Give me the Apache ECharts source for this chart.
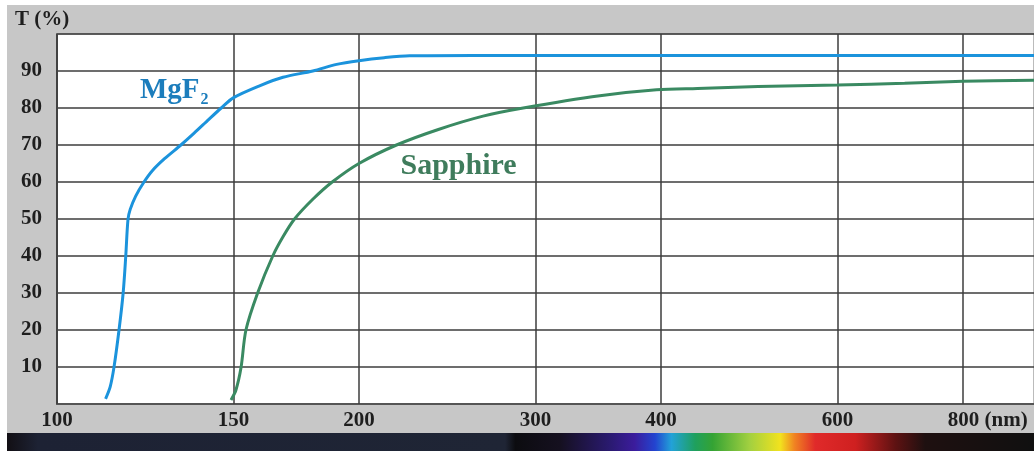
<!DOCTYPE html>
<html>
<head>
<meta charset="utf-8">
<script src="https://cdn.jsdelivr.net/npm/echarts@6/dist/echarts.min.js"></script>
<style>
  html, body { margin: 0; padding: 0; background: #fff; }
  #chart { width: 1034px; height: 451px; }
</style>
</head>
<body>
<div id="chart"></div>
<script>
// Wavelength (nm) ticks drawn as vertical guide lines on the log axis
const wavelengthTicks = [100, 150, 200, 300, 400, 600, 800];
const tickLabels = ['100', '150', '200', '300', '400', '600', '800 (nm)'];

// MgF2 transmission curve
const mgf2Wavelength = [111.8, 113, 114, 115.3, 116.4, 117.1, 117.7, 118.3, 119.8, 122.1, 124.4, 128, 132.9, 137, 141.8, 145.8, 150, 159.2, 168, 179.9, 190, 200, 212, 224.7, 260, 350, 500, 700, 942];
const mgf2Transmission = [1.4, 4.7, 10.1, 20, 30, 40, 49.9, 52.6, 56.2, 60, 63, 66.3, 70, 73.2, 77, 80, 82.8, 86, 88.3, 90, 91.8, 92.8, 93.6, 94.1, 94.2, 94.2, 94.2, 94.2, 94.2];

// Sapphire transmission curve
const sapphireWavelength = [149.1, 150.8, 152.6, 154.3, 158.5, 164.1, 168, 172.5, 180, 188.1, 200, 218, 240, 265.9, 291.6, 347.7, 396, 435, 500, 600, 700, 800, 942];
const sapphireTransmission = [1.1, 3.8, 10, 20, 30, 40, 45.2, 50, 55.4, 60, 65, 70, 74.2, 77.8, 80, 83.3, 84.9, 85.3, 85.8, 86.2, 86.7, 87.2, 87.5];

// Curve name annotations, anchored in data coordinates
const mgf2LabelAt = [130.9, 84.8];
const sapphireLabelAt = [251.4, 64.3];

const serif = '"Liberation Serif", "DejaVu Serif", serif';
const gridColor = '#3c3c3c';
const textColor = '#1e1e1e';

const pair = (xs, ys) => xs.map((x, i) => [x, ys[i]]);

const chart = echarts.init(document.getElementById('chart'), null, { renderer: 'canvas' });

const tickLines = wavelengthTicks.map((w, i) => {
  const item = { xAxis: w, label: { formatter: tickLabels[i] } };
  if (tickLabels[i].length > 3) {
    // keep the number centred on its line, unit trailing to the right
    item.label.padding = [0, 0, 0, 50];
  }
  return item;
});

const hiddenSymbol = { symbol: 'circle', symbolSize: 1, itemStyle: { color: 'rgba(0,0,0,0)' } };

chart.setOption({
  animation: false,
  backgroundColor: '#ffffff',
  graphic: [
    {
      type: 'rect', z: -10, silent: true,
      shape: { x: 7, y: 5, width: 1027, height: 428 },
      style: { fill: '#c7c7c7' }
    },
    {
      type: 'rect', z: -10, silent: true,
      shape: { x: 7, y: 433, width: 1027, height: 18 },
      style: {
        fill: new echarts.graphic.LinearGradient(0, 0, 1, 0, [
          { offset: 0.0, color: '#120f14' },
          { offset: 0.03, color: '#1d2234' },
          { offset: 0.485, color: '#1f2535' },
          { offset: 0.495, color: '#0c0c10' },
          { offset: 0.538, color: '#15101f' },
          { offset: 0.587, color: '#2a1a70' },
          { offset: 0.611, color: '#3b1c9c' },
          { offset: 0.631, color: '#2344d0' },
          { offset: 0.647, color: '#22a2d8' },
          { offset: 0.670, color: '#1fa05e' },
          { offset: 0.687, color: '#34a334' },
          { offset: 0.723, color: '#a2d040' },
          { offset: 0.753, color: '#f2e21e' },
          { offset: 0.767, color: '#f08222' },
          { offset: 0.787, color: '#e02a2a' },
          { offset: 0.826, color: '#cf2020' },
          { offset: 0.865, color: '#5e1212' },
          { offset: 0.894, color: '#1e1010' },
          { offset: 1.0, color: '#101010' }
        ])
      }
    },
    {
      type: 'text', silent: true,
      left: 15, top: 9,
      style: { text: 'T (%)', font: 'bold 21px ' + serif, fill: textColor }
    }
  ],
  grid: {
    show: true,
    left: 57, top: 34, right: 0, bottom: 47,
    backgroundColor: '#ffffff',
    borderColor: '#777',
    borderWidth: 1
  },
  xAxis: {
    type: 'log',
    logBase: 10,
    min: 100,
    max: 942,
    axisLine: { show: true, onZero: false, lineStyle: { color: '#555', width: 2 } },
    axisTick: { show: false },
    axisLabel: { show: false },
    splitLine: { show: false },
    minorSplitLine: { show: false }
  },
  yAxis: {
    type: 'value',
    min: 0,
    max: 100,
    interval: 10,
    axisLine: { show: true, lineStyle: { color: '#555', width: 2 } },
    axisTick: { show: false },
    axisLabel: {
      margin: 15,
      fontFamily: serif,
      fontWeight: 'bold',
      fontSize: 21,
      color: textColor,
      formatter: v => (v === 0 || v === 100) ? '' : String(v)
    },
    splitLine: { show: true, lineStyle: { color: gridColor, width: 1.5 } }
  },
  series: [
    {
      name: 'MgF2',
      type: 'line',
      data: pair(mgf2Wavelength, mgf2Transmission),
      showSymbol: false,
      smooth: 0.3,
      lineStyle: { color: '#1b93dc', width: 3 },
      z: 5,
      markLine: {
        silent: true,
        symbol: ['none', 'none'],
        lineStyle: { color: gridColor, width: 1.5, type: 'solid' },
        label: {
          show: true,
          position: 'start',
          distance: 6,
          fontFamily: serif,
          fontWeight: 'bold',
          fontSize: 21,
          color: textColor
        },
        emphasis: { disabled: true },
        data: tickLines
      },
      markPoint: Object.assign({
        silent: true,
        data: [{ coord: mgf2LabelAt }],
        label: {
          show: true,
          position: 'inside',
          formatter: '{a|MgF}{b|2}',
          rich: {
            a: { fontFamily: serif, fontWeight: 'bold', fontSize: 29, color: '#1c7dbc', verticalAlign: 'bottom' },
            b: { fontFamily: serif, fontWeight: 'bold', fontSize: 16, color: '#1c7dbc', verticalAlign: 'bottom', padding: [0, 0, -3, 1] }
          }
        }
      }, hiddenSymbol)
    },
    {
      name: 'Sapphire',
      type: 'line',
      data: pair(sapphireWavelength, sapphireTransmission),
      showSymbol: false,
      smooth: 0.3,
      lineStyle: { color: '#3a8a62', width: 3 },
      z: 5,
      markPoint: Object.assign({
        silent: true,
        data: [{ coord: sapphireLabelAt }],
        label: {
          show: true,
          position: 'inside',
          formatter: 'Sapphire',
          fontFamily: serif,
          fontWeight: 'bold',
          fontSize: 30,
          color: '#3f7c5c'
        }
      }, hiddenSymbol)
    }
  ]
});
</script>
</body>
</html>
